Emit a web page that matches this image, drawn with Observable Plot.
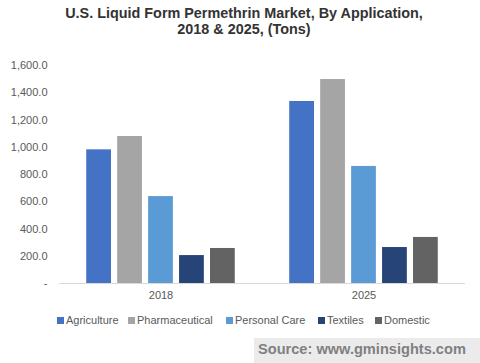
<!DOCTYPE html>
<html>
<head>
<meta charset="utf-8">
<script src="https://cdn.jsdelivr.net/npm/d3@7"></script>
<script src="https://cdn.jsdelivr.net/npm/@observablehq/plot@0.6"></script>
<style>
  html, body { margin: 0; padding: 0; background: #fff; }
  body { width: 480px; height: 363px; position: relative; overflow: hidden; font-family: "Liberation Sans", Arial, sans-serif; }
  #title { position: absolute; left: 0; top: 5px; width: 488px; text-align: center; font-weight: bold; font-size: 14.4px; line-height: 16px; color: #333; }
  #chart { position: absolute; left: 0; top: 45px; }
  #legend { position: absolute; top: 313px; left: 0; width: 480px; height: 14px; font-size: 11px; color: #595959; }
  .item { position: absolute; top: 0; white-space: nowrap; line-height: 14px; }
  .sw { display: inline-block; width: 7px; height: 7px; margin-right: 2px; vertical-align: 0px; }
  #source { position: absolute; left: 254px; top: 338px; width: 226px; height: 25px; background: #ebebeb; color: #808080; font-weight: bold; font-size: 14.6px; line-height: 22px; padding-left: 4px; box-sizing: border-box; }
</style>
</head>
<body>
<div id="title">U.S. Liquid Form Permethrin Market, By Application,<br>2018 &amp; 2025, (Tons)</div>
<div id="chart"></div>
<div id="legend"></div>
<div id="source">Source: www.gminsights.com</div>
<script>
const years = ["2018", "2025"];
const applications = ["Agriculture", "Pharmaceutical", "Personal Care", "Textiles", "Domestic"];
const colors = ["#4472C4", "#A5A5A5", "#5B9BD5", "#264478", "#636363"];
const values2018 = [981, 1079, 638, 205, 257];
const values2025 = [1336, 1497, 859, 264, 338];
const yTicks = [0, 200, 400, 600, 800, 1000, 1200, 1400, 1600];

const data = [];
applications.forEach((a, i) => {
  data.push({year: years[0], app: a, value: values2018[i]});
  data.push({year: years[1], app: a, value: values2025[i]});
});

const fmt = d3.format(",.1f");
const plot = Plot.plot({
  width: 480,
  height: 260,
  marginLeft: 59,
  marginRight: 15,
  marginTop: 20,
  marginBottom: 22,
  style: {fontFamily: "'Liberation Sans', Arial, sans-serif", fontSize: "11px", color: "#595959", background: "transparent"},
  fx: {domain: years, padding: 0, label: null, round: false},
  x: {domain: applications, axis: null, paddingInner: 0.2, paddingOuter: 0.88, round: false},
  y: {domain: [0, 1600], label: null},
  color: {domain: applications, range: colors},
  marks: [
    Plot.axisY({ticks: yTicks, tickSize: 0, tickPadding: 12, tickFormat: d => d === 0 ? "-" : fmt(d), fill: "#595959", label: null}),
    Plot.axisFx({anchor: "bottom", tickSize: 0, tickPadding: 8, fill: "#595959", label: null, fontSize: 11}),
    Plot.barY(data, {fx: "year", x: "app", y: "value", fill: "app"}),
    Plot.ruleY([0], {stroke: "#d9d9d9", strokeWidth: 1})
  ]
});
document.getElementById("chart").appendChild(plot);

const legendPos = [57, 128, 226, 318, 375];
const legend = document.getElementById("legend");
applications.forEach((a, i) => {
  const it = document.createElement("div");
  it.className = "item";
  it.style.left = legendPos[i] + "px";
  it.innerHTML = `<span class="sw" style="background:${colors[i]}"></span>${a}`;
  legend.appendChild(it);
});
</script>
</body>
</html>
